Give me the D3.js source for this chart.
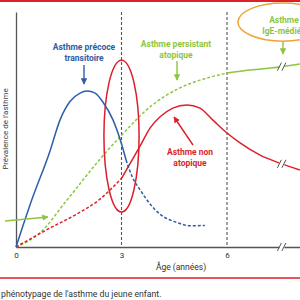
<!DOCTYPE html>
<html><head><meta charset="utf-8">
<script src="https://cdn.jsdelivr.net/npm/d3@7"></script>
<style>body{margin:0;background:#fff}svg{display:block}</style>
</head><body><svg width="300" height="300"></svg>
<script>
// age (years) vs prevalence (0-100)
var xTicks = [0, 3, 6];
var blueSolid = [[0,0],[0.4,18],[0.97,41],[1.25,54],[1.54,62],[1.82,65.5],[2.02,66.4],[2.25,65.5],[2.47,61.7],[2.76,54],[3.01,43.4],[3.13,37]];
var blueDashed = [[3.13,37],[3.3,30],[3.53,24.3],[3.81,18.3],[4.09,14],[4.58,10.4],[4.95,9],[5.37,9.2]];
var greenDashed = [[0,0],[0.68,6],[1.45,20],[2.39,37.4],[3.01,47.7],[3.81,59.6],[4.66,67.7],[5.23,71],[6,74]];
var greenSolid = [[6,74],[6.65,75.3],[7.5,76.6],[8.07,77.9]];
var redDashed = [[0,0],[0.97,8.1],[1.68,13.6],[2.39,20.4],[3.01,29.4]];
var redSolid = [[3.01,29.4],[3.53,43],[3.81,50.6],[4.09,55.3],[4.46,59.1],[4.86,60.4],[5.23,59.1],[5.6,54],[6,48.5],[6.37,44.3],[6.94,39.1],[7.5,35.7],[8.07,32.8]];
var breakAge = 7.56;

var blue = "#2e5da8", green = "#8cc63f", red = "#dc1f2b", orange = "#f0a233", grey = "#555";
var font = "Roboto, 'DejaVu Sans', sans-serif";

var svg = d3.select("svg");
var x = d3.scaleLinear().domain([0, 8.075]).range([16, 300]);
var y = d3.scaleLinear().domain([0, 100]).range([247, 12]);

// frame lines
svg.append("line").attr("x1",0).attr("x2",300).attr("y1",1).attr("y2",1).attr("stroke",red).attr("stroke-width",2);
svg.append("line").attr("x1",0).attr("x2",300).attr("y1",278).attr("y2",278).attr("stroke",red).attr("stroke-width",1.5);

// vertical dashed guides
svg.selectAll(".guide").data([3, 6]).join("line")
  .attr("x1", d => x(d)).attr("x2", d => x(d))
  .attr("y1", y(100)).attr("y2", y(0))
  .attr("stroke", grey).attr("stroke-width", 1.1).attr("stroke-dasharray", "3,2");

// axes
var xAxis = svg.append("g").attr("transform", "translate(0," + y(0) + ")")
  .call(d3.axisBottom(x).tickValues(xTicks).tickSize(0).tickPadding(5).tickFormat(d3.format("d")));
var yAxis = svg.append("g").attr("transform", "translate(" + x(0) + ",0)")
  .call(d3.axisLeft(y).tickValues([]).tickSize(0));
svg.selectAll(".domain").attr("stroke", grey).attr("stroke-width", 1.3);
xAxis.selectAll("text").attr("font-family", font).attr("font-size", 8).attr("fill", "#333");

svg.append("text").attr("x", 181).attr("y", 270).attr("text-anchor", "middle")
  .attr("font-family", font).attr("font-size", 8.5).attr("fill", "#333").text("Âge (années)");
svg.append("text").attr("transform", "translate(8,129) rotate(-90)").attr("text-anchor", "middle")
  .attr("font-family", font).attr("font-size", 8).attr("fill", "#444").text("Prévalence de l'asthme");

// curves
var line = d3.line().x(d => x(d[0])).y(d => y(d[1])).curve(d3.curveMonotoneX);
function curve(data, color, dashed) {
  svg.append("path").datum(data).attr("d", line).attr("fill", "none")
    .attr("stroke", color).attr("stroke-width", 1.5)
    .attr("stroke-dasharray", dashed ? "3,2" : null);
}
curve(greenDashed, green, true);
curve(greenSolid, green, false);
curve(redDashed, red, true);
curve(redSolid, red, false);
curve(blueSolid, blue, false);
curve(blueDashed, blue, true);

// ellipses
svg.append("ellipse").attr("cx", x(3)).attr("cy", y(47.2))
  .attr("rx", x(0.5) - x(0)).attr("ry", y(0) - y(32.3))
  .attr("fill", "none").attr("stroke", red).attr("stroke-width", 1.5);
svg.append("ellipse").attr("cx", x(7.59)).attr("cy", y(95.7))
  .attr("rx", x(1.28) - x(0)).attr("ry", y(0) - y(8.1))
  .attr("fill", "none").attr("stroke", orange).attr("stroke-width", 1.5);

// breaks "//"
function valueAt(data, a) {
  var i = d3.bisector(d => d[0]).left(data, a);
  var p = data[i - 1], q = data[i];
  return p[1] + (q[1] - p[1]) * (a - p[0]) / (q[0] - p[0]);
}
[0, valueAt(greenSolid, breakAge), valueAt(redSolid, breakAge)].forEach(function(v) {
  var bx = x(breakAge), by = y(v);
  var g = svg.append("g").attr("transform", "translate(" + bx + "," + by + ")");
  g.append("rect").attr("x", -2.5).attr("y", -3).attr("width", 5).attr("height", 6).attr("fill", "#fff");
  [-2.5, 2].forEach(function(o) {
    g.append("line").attr("x1", o - 2).attr("y1", 4).attr("x2", o + 2).attr("y2", -4)
      .attr("stroke", grey).attr("stroke-width", 1);
  });
});

// arrows
var defs = svg.append("defs");
[["b", blue], ["g", green], ["r", red]].forEach(function(m) {
  defs.append("marker").attr("id", "arr" + m[0]).attr("viewBox", "0 0 10 10")
    .attr("refX", 9).attr("refY", 5).attr("markerWidth", 4.5).attr("markerHeight", 4.5)
    .attr("orient", "auto").attr("markerUnits", "strokeWidth")
    .append("path").attr("d", "M0,0L10,5L0,10z").attr("fill", m[1]);
});
function arrow(x1, y1, x2, y2, id, color) {
  svg.append("line").attr("x1", x1).attr("y1", y1).attr("x2", x2).attr("y2", y2)
    .attr("stroke", color).attr("stroke-width", 1.4).attr("marker-end", "url(#arr" + id + ")");
}
arrow(84, 65, 84, 84, "b", blue);
arrow(177, 61, 177, 80, "g", green);
arrow(283, 42, 283, 54, "g", green);
arrow(193, 145, 174, 117, "r", red);
arrow(5, 221, 48, 217, "g", green);

// labels
function label(lines, cx, y0, color) {
  lines.forEach(function(t, i) {
    svg.append("text").attr("x", cx).attr("y", y0 + i * 11).attr("text-anchor", "middle")
      .attr("font-family", font).attr("font-weight", "bold").attr("font-size", 8.5)
      .attr("fill", color).text(t);
  });
}
label(["Asthme précoce", "transitoire"], 84, 50, blue);
label(["Asthme persistant", "atopique"], 176, 47, green);
label(["Asthme non", "atopique"], 190, 155, red);
label(["Asthme", "IgE-médiée"], 284, 23, green);

svg.append("text").attr("x", 1).attr("y", 297).attr("font-family", font).attr("font-size", 8.7)
  .attr("fill", "#333").text("phénotypage de l'asthme du jeune enfant.");
</script></body></html>
